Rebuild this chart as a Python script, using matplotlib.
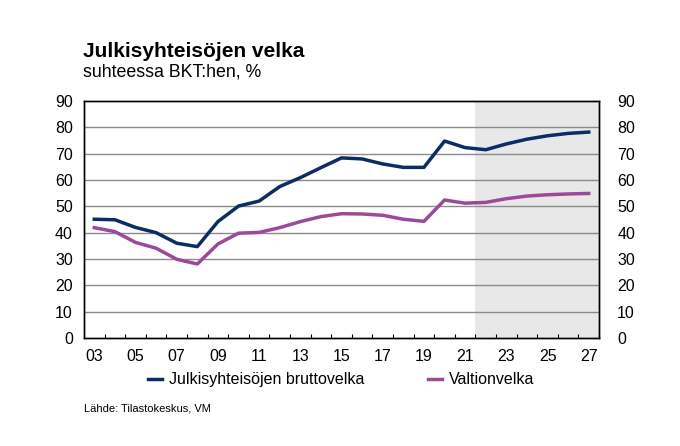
import matplotlib
matplotlib.use("Agg")
import matplotlib.pyplot as plt
import numpy as np

plt.rcParams['font.family'] = ['Liberation Sans', 'DejaVu Sans']

years = list(range(2003, 2028))
tick_labels = [f"{y % 100:02d}" for y in years]
brutto = [45.1, 44.9, 42.0, 40.0, 36.0, 34.7, 44.2, 50.1, 52.0, 57.5, 60.9, 64.7,
          68.4, 68.0, 66.1, 64.8, 64.8, 74.8, 72.3, 71.5, 73.7, 75.5, 76.8, 77.7, 78.2]
valtio = [41.9, 40.4, 36.3, 34.1, 29.9, 28.1, 35.7, 39.8, 40.1, 41.9, 44.2, 46.1,
          47.2, 47.1, 46.6, 45.1, 44.3, 52.4, 51.2, 51.5, 52.9, 53.9, 54.4, 54.7, 54.9]
forecast_start = 2022

navy = "#0B2C64"
purple = "#9B4A99"

fig = plt.figure(figsize=(6.8, 4.46), dpi=100)
ax = fig.add_axes([0.1235, 0.2422, 0.7575, 0.5313])

x = np.arange(len(years))
fs_idx = years.index(forecast_start)
ax.axvspan(fs_idx - 0.5, len(years) - 0.5, color="#E8E8E8", zorder=0, lw=0)

for v in range(10, 90, 10):
    ax.axhline(v, color="#8C8C8C", lw=1.0, zorder=1)

l1, = ax.plot(x, brutto, color=navy, lw=2.5, zorder=3, solid_joinstyle='round')
l2, = ax.plot(x, valtio, color=purple, lw=2.5, zorder=3, solid_joinstyle='round')

ax.set_xlim(-0.5, len(years) - 0.5)
ax.set_ylim(0, 90)
ax.set_yticks(range(0, 91, 10))
ax.tick_params(axis='y', length=0, labelsize=11.5, pad=8)

ax2 = ax.twinx()
ax2.set_ylim(0, 90)
ax2.set_yticks(range(0, 91, 10))
ax2.tick_params(axis='y', length=0, labelsize=11.5, pad=13)

ax.set_xticks(np.arange(len(years) + 1) - 0.5, minor=True)
ax.set_xticks(x[::2])
ax.set_xticklabels(tick_labels[::2])
ax.tick_params(axis='x', which='major', length=0, labelsize=11.5, pad=8)
ax.tick_params(axis='x', which='minor', direction='in', length=3, width=0.8)

for a in (ax, ax2):
    for s in a.spines.values():
        s.set_color("black")
        s.set_linewidth(1.0)

fig.text(0.122, 0.885, "Julkisyhteisöjen velka", fontsize=15, fontweight='bold', va='center')
fig.text(0.122, 0.838, "suhteessa BKT:hen, %", fontsize=12.8, va='center')
fig.text(0.123, 0.085, "Lähde: Tilastokeskus, VM", fontsize=8, va='center')

fig.legend([l1, l2], ["Julkisyhteisöjen bruttovelka", "Valtionvelka"],
           loc='center left', bbox_to_anchor=(0.2176, 0.148), ncol=2, frameon=False,
           fontsize=11.5, handlelength=0.9, handletextpad=0.4, columnspacing=4.0,
           borderaxespad=0, borderpad=0)

fig.savefig("out.png", dpi=100)
